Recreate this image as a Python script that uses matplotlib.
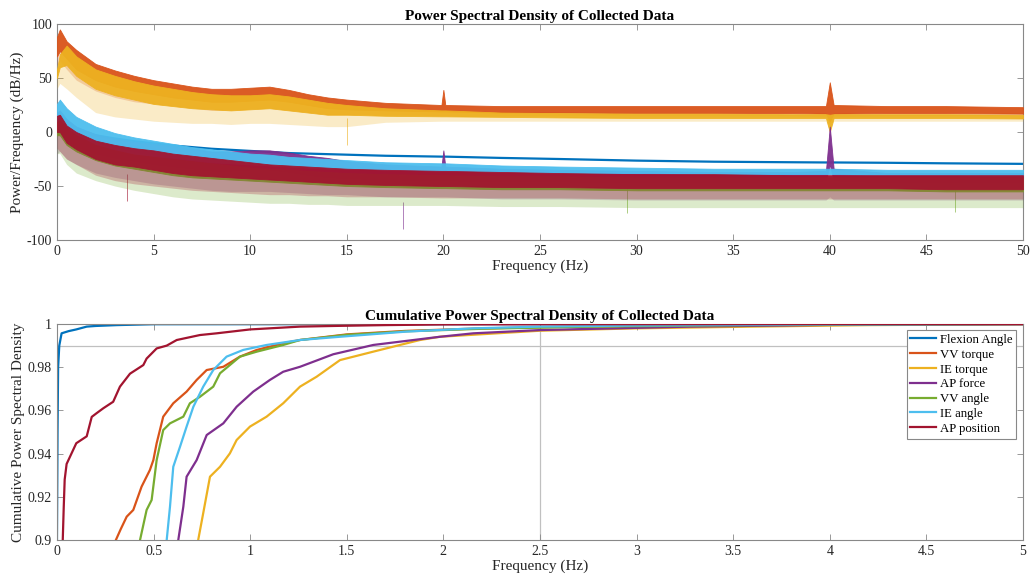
import numpy as np
import matplotlib.pyplot as plt

plt.rcParams['font.family'] = ['Liberation Serif', 'DejaVu Serif']
plt.rcParams['axes.unicode_minus'] = False

names = ['Flexion Angle', 'VV torque', 'IE torque', 'AP force', 'VV angle', 'IE angle', 'AP position']
colors = ['#0072BD', '#D95319', '#EDB120', '#7E2F8E', '#77AC30', '#4DBEEE', '#A2142F']

psd_freq = [0, 0.15, 0.5, 1, 2, 3, 4, 5, 6, 7, 8, 9, 10, 11, 12, 13, 14, 15, 17,
            19.9, 20, 20.1, 23, 26, 30, 34, 38, 39.8, 40, 40.2, 43, 46, 50]

flex_psd = [14, 16, 10, 3, -3, -6, -8.5, -10.5, -12.5, -14, -15.5, -16.5, -17.5, -18.5, -19.5,
            -20, -20.5, -21, -22, -22.8, -22.8, -22.8, -24, -25, -26.5, -27.5, -28, -28.2,
            -28.2, -28.2, -28.5, -29, -29.5]

vvt_hi = [88, 95, 84, 76, 63, 57, 52, 48, 45, 42, 40, 40, 41, 42, 39, 35, 32, 30, 27,
          25, 39, 25, 24, 24, 24, 24, 24, 24, 46, 25, 24, 24, 23]
vvt_lo = [70, 75, 68, 58, 48, 42, 38, 35, 32, 30, 28, 28, 29, 30, 28, 25, 22, 21, 20,
          19, 19, 19, 18, 18, 17.5, 17.5, 17.5, 17, 10, 17, 17.5, 17.5, 17]
vvt_dip = [62, 66, 58, 48, 38, 32, 28, 26, 24, 22, 20, 20, 21, 22, 20, 18, 16, 16, 16,
           15, 15, 15, 15, 15, 15, 15, 15, 14, 8, 14, 15, 15, 15]

iet_hi = [58, 72, 80, 70, 58, 52, 47, 43, 40, 37, 35, 34, 34, 35, 33, 30, 27, 25, 22,
          20, 20, 20, 18, 17.5, 17, 17, 16.5, 16.5, 16, 16.5, 16.5, 16.5, 16]
iet_lo = [50, 60, 62, 52, 40, 34, 30, 26, 24, 22, 21, 20, 21, 22, 20, 18, 16, 16, 15,
          14.5, 14.5, 14.5, 14, 13.5, 13, 13, 13, 13, 0, 13, 13, 13, 12.5]
iet_dip = [40, 45, 40, 32, 18, 14, 12, 10, 9, 8, 8, 7, 8, 8, 7, 6, 5, 5, 9,
           10, 10, 10, 10, 10, 10, 10, 10, 10, 0, 10, 10, 10, 10]

apf_hi = [18, 20, 12, 5, -2, -6, -9, -11, -13, -15, -18, -18, -17, -17, -19, -22, -24, -27, -30,
          -32, -17, -32, -34, -35, -36, -37, -37, -36, 5, -34, -38, -38, -38]
apf_lo = [-2, 0, -8, -14, -20, -24, -27, -30, -32, -34, -36, -36, -35, -35, -37, -40, -42, -43, -44,
          -45, -45, -45, -46, -46, -47, -47, -47, -45, -30, -45, -47, -47, -47]
apf_dip = [-20, -18, -25, -30, -38, -42, -45, -48, -50, -52, -54, -55, -55, -55, -56, -57, -58, -58, -60,
           -60, -60, -60, -62, -62, -63, -63, -63, -63, -60, -63, -63, -63, -63]

vva_hi = [12, 14, 5, -2, -10, -15, -19, -22, -25, -27, -29, -31, -33, -34, -35, -36, -37, -38, -39,
          -40, -40, -40, -41, -41, -42, -42, -42, -42, -42, -42, -42, -42, -42]
vva_lo = [-3, -3, -12, -18, -26, -31, -34, -37, -40, -42, -43, -44, -45, -46, -47, -48, -49, -50, -51,
          -52, -52, -52, -53, -53, -54, -54, -54, -54, -54, -54, -54, -55, -55]
vva_dip = [-20, -20, -30, -38, -45, -50, -54, -57, -60, -62, -63, -64, -65, -66, -66, -67, -67, -68, -68,
           -68, -68, -68, -69, -69, -70, -70, -70, -70, -70, -70, -70, -70, -70]

iea_hi = [26, 30, 22, 14, 5, -1, -5, -8, -11, -14, -16, -18, -20, -21, -23, -24, -25, -26, -28,
          -29, -29, -29, -31, -32, -33, -34, -34, -34, -34, -34, -35, -35, -35]
iea_lo = [10, 12, 5, -2, -11, -16, -20, -22, -24, -26, -28, -29, -30, -31, -32, -33, -34, -34, -35,
          -36, -36, -36, -37, -38, -38, -39, -39, -39, -39, -39, -40, -40, -41]

app_hi = [15, 16, 6, 0, -8, -12, -15, -17, -20, -22, -24, -26, -28, -30, -31, -32, -33, -34, -35,
          -36, -36, -36, -37, -38, -39, -39, -40, -40, -40, -40, -40, -40, -40]
app_lo = [0, 0, -10, -16, -25, -30, -32, -35, -38, -40, -41, -42, -43, -44, -45, -46, -47, -48, -49,
          -50, -50, -50, -51, -51, -52, -52, -52, -52, -52, -52, -52, -53, -53]
app_dip = [-15, -18, -25, -30, -40, -45, -48, -50, -52, -54, -55, -56, -57, -58, -58, -59, -59, -60, -60,
           -61, -61, -61, -61, -61, -62, -62, -62, -62, -62, -62, -62, -62, -62]

# isolated deep spikes (series index, frequency, low value)
spike_series = [6, 3, 2, 4, 4]
spike_freq = [3.6, 17.9, 15.0, 29.5, 46.5]
spike_low = [-64, -90, -12, -75, -74]

# --- cumulative PSD ---
cum_f = [
    [0, 0.003, 0.006, 0.012, 0.024, 0.06, 0.10, 0.154, 0.2, 0.31, 0.5, 5],
    [0.305, 0.33, 0.361, 0.395, 0.438, 0.481, 0.499, 0.516, 0.55, 0.602, 0.671, 0.723, 0.775,
     0.861, 0.947, 1.034, 1.171, 1.258, 1.5, 1.8, 2.2, 2.7, 3.3, 4.0, 5],
    [0.731, 0.757, 0.792, 0.844, 0.895, 0.930, 0.999, 1.085, 1.171, 1.258, 1.344, 1.465, 1.637,
     1.775, 1.879, 1.982, 2.5, 3.0, 3.6, 4.2, 5],
    [0.628, 0.654, 0.671, 0.723, 0.775, 0.861, 0.930, 1.016, 1.102, 1.171, 1.258, 1.43, 1.637,
     1.982, 2.155, 2.5, 3.276, 4.0, 5],
    [0.43, 0.464, 0.49, 0.516, 0.55, 0.585, 0.654, 0.688, 0.74, 0.809, 0.844, 0.895, 0.947,
     1.034, 1.171, 1.258, 1.5, 1.8, 2.2, 2.7, 3.3, 4.0, 5],
    [0.568, 0.585, 0.602, 0.637, 0.671, 0.706, 0.757, 0.809, 0.878, 0.964, 1.085, 1.258, 1.465,
     1.81, 2.155, 2.5, 3.0, 3.6, 4.2, 5],
    [0.03, 0.035, 0.04, 0.05, 0.10, 0.154, 0.18, 0.205, 0.24, 0.291, 0.326, 0.378, 0.447, 0.464,
     0.516, 0.568, 0.62, 0.74, 0.827, 1.0, 1.258, 1.43, 1.7, 2.0, 2.5, 5],
]
cum_p = [
    [0.9, 0.95, 0.98, 0.99, 0.9957, 0.9967, 0.9975, 0.9988, 0.9991, 0.9995, 0.9999, 1.0],
    [0.9, 0.905, 0.9108, 0.9139, 0.9247, 0.9324, 0.937, 0.9448, 0.9571, 0.9633, 0.9687, 0.9741,
     0.9787, 0.9802, 0.9849, 0.988, 0.9911, 0.9926, 0.9952, 0.9968, 0.998, 0.9988, 0.9994, 0.9998, 1.0],
    [0.9, 0.9124, 0.9293, 0.9339, 0.9401, 0.9463, 0.9525, 0.9571, 0.9633, 0.971, 0.9756, 0.9833,
     0.9872, 0.9903, 0.9926, 0.9941, 0.9969, 0.998, 0.9988, 0.9995, 0.9999],
    [0.9, 0.9154, 0.9293, 0.937, 0.9486, 0.954, 0.9617, 0.9687, 0.9741, 0.9779, 0.9802, 0.986,
     0.9903, 0.9941, 0.9957, 0.9972, 0.9988, 0.9996, 0.9999],
    [0.9, 0.9139, 0.9185, 0.937, 0.9509, 0.954, 0.9571, 0.9633, 0.9663, 0.971, 0.9772, 0.981,
     0.9849, 0.9872, 0.9903, 0.9926, 0.995, 0.9966, 0.9978, 0.9987, 0.9993, 0.9997, 1.0],
    [0.9, 0.9154, 0.9339, 0.9432, 0.9525, 0.9617, 0.971, 0.9787, 0.9849, 0.988, 0.9903, 0.9926,
     0.9941, 0.9965, 0.998, 0.9988, 0.9993, 0.9996, 0.9998, 1.0],
    [0.9, 0.915, 0.928, 0.9352, 0.9448, 0.948, 0.957, 0.9587, 0.961, 0.964, 0.971, 0.977, 0.981,
     0.984, 0.9887, 0.990, 0.9926, 0.9949, 0.9957, 0.9975, 0.9988, 0.9991, 0.9995, 0.9998, 0.9999, 1.0],
]

ref_level = 0.99
ref_freq = 2.5

fig = plt.figure(figsize=(10.3, 5.81), dpi=100)
ax1 = fig.add_axes([0.0553, 0.5869, 0.9379, 0.3718])
ax2 = fig.add_axes([0.0553, 0.0706, 0.9379, 0.3717])

def style(ax):
    ax.tick_params(direction='in', top=True, right=True, length=4, width=0.6,
                   colors='#888888', labelcolor='#262626', labelsize=10)
    for s in ax.spines.values():
        s.set_color('#888888')
        s.set_linewidth(0.8)

# top panel
ax1.plot(psd_freq, flex_psd, color=colors[0], lw=1.6, zorder=2)
bands = [(1, vvt_hi, vvt_lo, vvt_dip), (2, iet_hi, iet_lo, iet_dip),
         (3, apf_hi, apf_lo, apf_dip), (4, vva_hi, vva_lo, vva_dip),
         (5, iea_hi, iea_lo, None), (6, app_hi, app_lo, app_dip)]
for k, (i, hi, lo, dip) in enumerate(bands):
    z = 3 + k
    if dip is not None:
        ax1.fill_between(psd_freq, dip, lo, color=colors[i], alpha=0.25, lw=0, zorder=z)
    ax1.fill_between(psd_freq, lo, hi, color=colors[i], alpha=0.95, lw=0.6, zorder=z)
for s, f, lo in zip(spike_series, spike_freq, spike_low):
    ax1.vlines(f, lo, lo + 25, color=colors[s], lw=0.7, alpha=0.6, zorder=2.5)

ax1.set_xlim(0, 50)
ax1.set_ylim(-100, 100)
ax1.set_xticks(np.arange(0, 51, 5))
ax1.set_yticks([-100, -50, 0, 50, 100])
ax1.set_xlabel('Frequency (Hz)', fontsize=11, color='#262626', labelpad=1)
ax1.set_ylabel('Power/Frequency (dB/Hz)', fontsize=11, color='#262626', labelpad=2)
ax1.set_title('Power Spectral Density of Collected Data', fontsize=11, fontweight='bold', pad=3)
style(ax1)

# bottom panel
ax2.axhline(ref_level, color='#c0c0c0', lw=0.9, zorder=1)
ax2.axvline(ref_freq, color='#c0c0c0', lw=0.9, zorder=1)
for i in range(len(names)):
    ax2.plot(cum_f[i], cum_p[i], color=colors[i], lw=1.6, label=names[i], zorder=2 + i)
ax2.set_xlim(0, 5)
ax2.set_ylim(0.9, 1.0)
ax2.set_xticks(np.arange(0, 5.01, 0.5))
ax2.set_xticklabels(['0', '0.5', '1', '1.5', '2', '2.5', '3', '3.5', '4', '4.5', '5'])
ax2.set_yticks([0.9, 0.92, 0.94, 0.96, 0.98, 1.0])
ax2.set_yticklabels(['0.9', '0.92', '0.94', '0.96', '0.98', '1'])
ax2.set_xlabel('Frequency (Hz)', fontsize=11, color='#262626', labelpad=1)
ax2.set_ylabel('Cumulative Power Spectral Density', fontsize=11, color='#262626', labelpad=2)
ax2.set_title('Cumulative Power Spectral Density of Collected Data', fontsize=11,
              fontweight='bold', pad=3)
style(ax2)
leg = ax2.legend(loc='upper right', bbox_to_anchor=(0.993, 0.972), fontsize=9.2,
                 frameon=True, fancybox=False, edgecolor='#888888', framealpha=1,
                 handlelength=2.0, labelspacing=0.22, borderpad=0.3, handletextpad=0.3,
                 borderaxespad=0)
leg.get_frame().set_linewidth(0.8)

fig.savefig('out.png', dpi=100)
